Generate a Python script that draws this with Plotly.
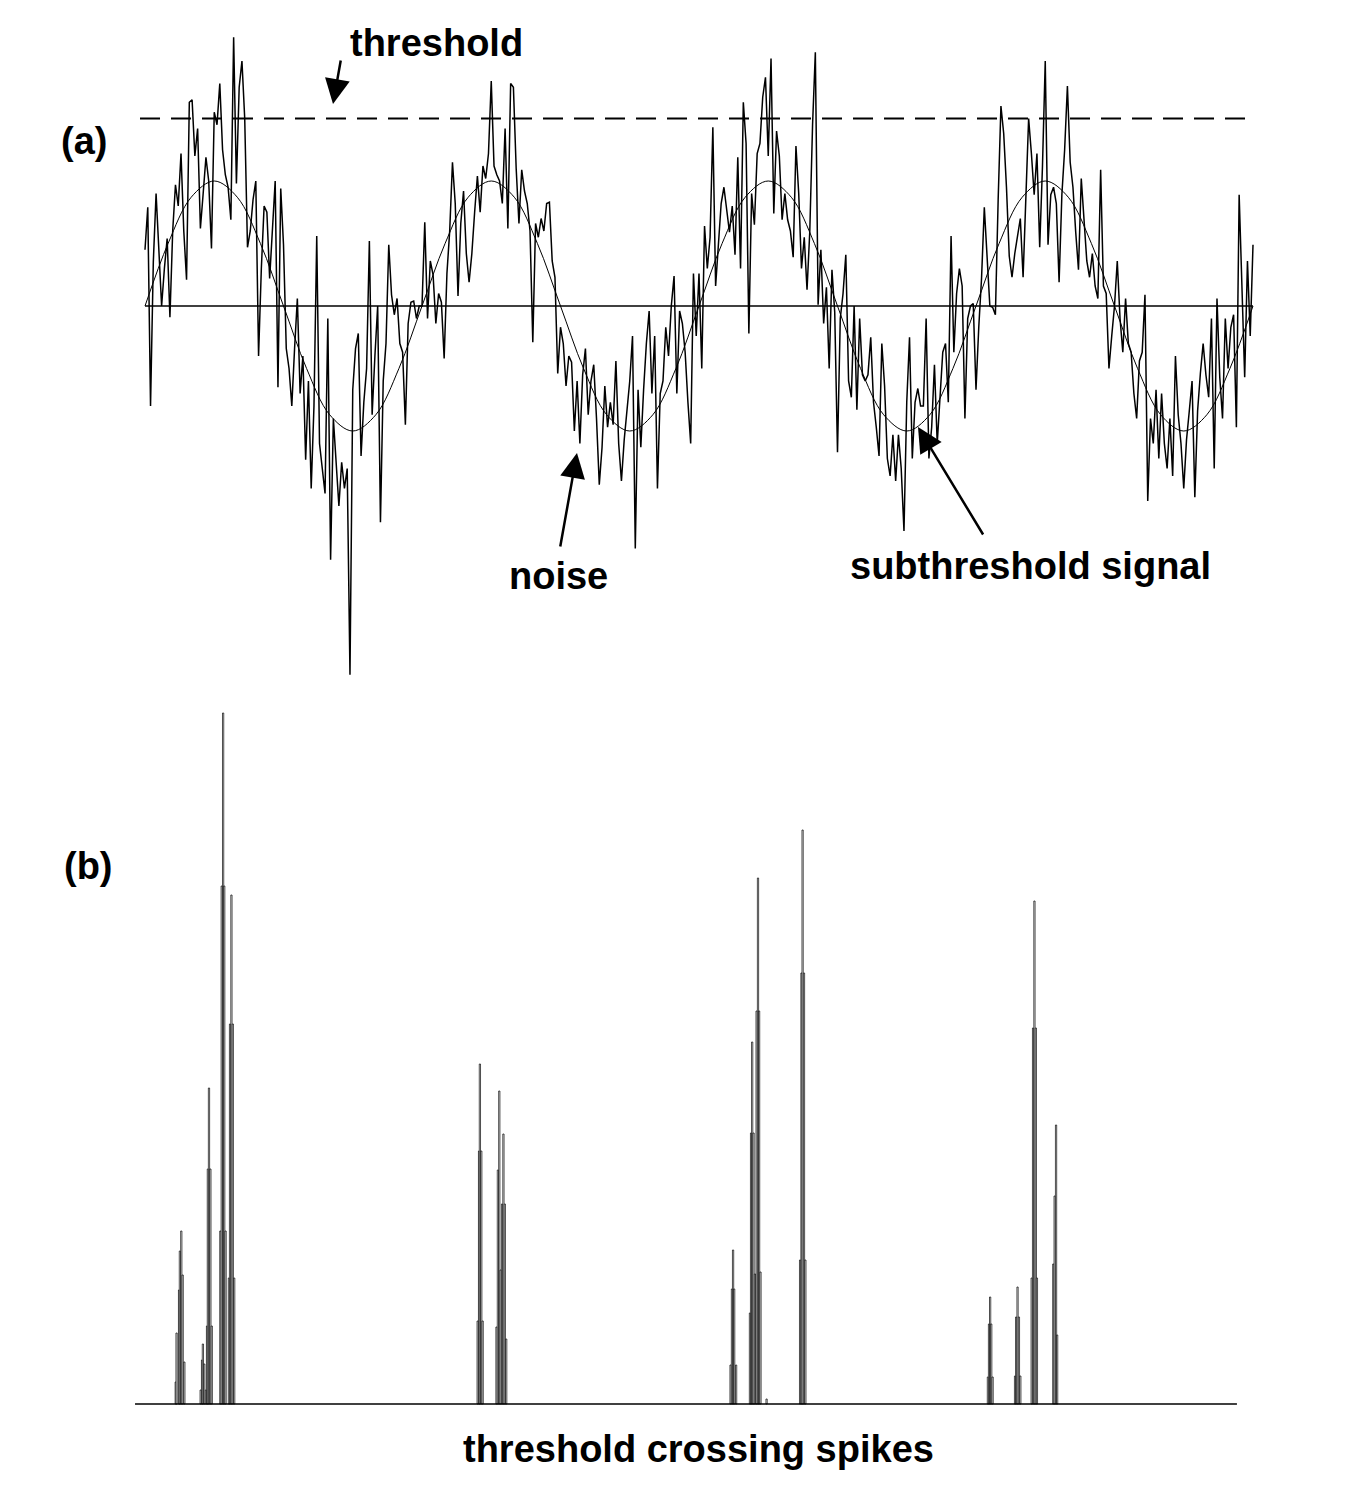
import plotly.graph_objects as go

# ---------------- data ----------------
THRESHOLD = 1.5  # in units of the signal amplitude

# subthreshold sine signal, sampled every 1/12 period (period = 100 time units)
signal = [0.00, 0.50, 0.87, 1.00, 0.87, 0.50, 0.00, -0.50, -0.87, -1.00, -0.87, -0.50,
          0.00, 0.50, 0.87, 1.00, 0.87, 0.50, 0.00, -0.50, -0.87, -1.00, -0.87, -0.50,
          0.00, 0.50, 0.87, 1.00, 0.87, 0.50, 0.00, -0.50, -0.87, -1.00, -0.87, -0.50,
          0.00, 0.50, 0.87, 1.00, 0.87, 0.50, 0.00, -0.50, -0.87, -1.00, -0.87, -0.50,
          0.00]

# noisy signal, one sample per time unit, period by period
noisy_p1 = [0.45, 0.79, -0.80, 0.35, 0.90, 0.40, 0.00, 0.30, 0.54, -0.09,
            0.60, 0.97, 0.80, 1.22, 0.60, 0.21, 1.63, 1.65, 1.20, 1.42,
            0.62, 0.90, 1.19, 1.00, 0.46, 1.55, 1.45, 1.78, 1.25, 1.05,
            0.95, 0.69, 2.15, 0.98, 1.75, 1.96, 1.50, 0.47, 0.60, 0.85,
            1.00, -0.40, 0.30, 0.80, 0.75, 0.22, 0.60, 1.00, -0.65, 0.94,
            0.49, -0.34, -0.50, -0.80, -0.34, 0.06, -0.70, -0.40, -1.23, -0.60,
            -1.46, -0.80, 0.56, -1.10, -1.30, -1.50, -0.10, -2.03, -0.90, -1.27,
            -1.60, -1.25, -1.46, -1.30, -2.95, -0.67, -0.34, -0.22, -1.20, -0.77,
            -0.50, 0.52, -0.87, -0.40, 0.00, -1.73, -0.60, -0.30, 0.49, 0.09,
            -0.07, 0.06, -0.30, -0.37, -0.95, -0.14, 0.03, 0.04, -0.10, 0.00]

noisy_p2 = [0.00, 0.67, -0.10, 0.36, 0.25, -0.14, 0.10, 0.03, -0.42, 0.26,
            0.60, 1.15, 0.82, 0.08, 0.66, 0.92, 0.42, 0.19, 0.42, 0.75,
            1.04, 0.75, 1.12, 1.02, 1.22, 1.80, 1.12, 1.05, 1.00, 0.82,
            1.42, 0.62, 1.78, 1.75, 1.10, 0.66, 1.09, 0.92, 0.82, 0.60,
            -0.29, 0.66, 0.55, 0.70, 0.60, 0.82, 0.83, 0.36, 0.23, -0.54,
            -0.17, -0.30, -0.64, -0.40, -0.45, -1.00, -0.60, -1.10, -0.55, -0.34,
            -0.87, -0.60, -0.47, -0.90, -1.43, -1.13, -0.64, -0.97, -0.77, -0.95,
            -0.44, -1.10, -1.40, -1.07, -0.80, -0.60, -0.24, -1.94, -0.67, -1.13,
            -0.67, -0.30, -0.04, -0.70, -0.24, -1.46, -0.70, -0.60, -0.17, -0.40,
            0.00, 0.24, -0.70, -0.04, -0.14, -0.37, -0.77, -1.10, 0.26, -0.24]

noisy_p3 = [0.26, -0.50, 0.64, 0.30, 0.55, 1.43, 0.16, 0.50, 0.82, 0.95,
            0.75, 0.59, 0.80, 0.41, 1.19, 0.30, 1.63, 1.30, -0.22, 0.90,
            0.65, 1.22, 1.30, 1.67, 1.83, 1.20, 1.98, 0.74, 1.40, 1.20,
            0.69, 0.90, 0.69, 0.60, 0.39, 1.28, 0.90, 0.30, 0.55, 0.13,
            0.60, 1.45, 2.03, 0.01, 0.45, -0.14, 0.15, -0.50, 0.29, -0.05,
            -1.17, -0.10, 0.10, 0.41, -0.60, -0.73, 0.00, -0.83, -0.10, -0.55,
            -0.60, -0.55, -0.25, -0.77, -0.97, -1.20, -0.30, -0.64, -1.22, -1.36,
            -1.03, -1.40, -1.03, -1.30, -1.80, -0.77, -0.25, -1.22, -0.77, -0.66,
            -0.80, -0.80, -0.10, -1.22, -0.97, -0.47, -1.10, -0.77, -0.37, -0.30,
            -0.77, 0.56, -0.37, 0.10, 0.30, 0.16, -0.90, -0.10, 0.00, 0.02]

noisy_p4 = [-0.67, -0.17, 0.22, 0.79, 0.40, 0.00, -0.01, -0.07, 0.85, 1.60,
            1.38, 0.95, 0.40, 0.23, 0.42, 0.55, 0.70, 0.23, 0.82, 1.50,
            1.22, 0.89, 1.22, 0.47, 1.12, 1.96, 0.49, 0.89, 0.95, 0.82,
            0.19, 0.89, 1.25, 1.76, 1.15, 0.95, 0.59, 0.29, 1.02, 0.66,
            0.36, 0.23, 0.42, 0.16, 0.06, 1.09, 0.16, 0.10, -0.50, -0.24,
            0.00, 0.36, -0.10, -0.37, 0.06, -0.30, -0.37, -0.70, -0.90, -0.44,
            -0.37, 0.09, -1.56, -0.90, -1.10, -0.67, -1.22, -0.70, -1.10, -1.30,
            -0.90, -1.36, -0.40, -0.87, -1.10, -1.46, -1.07, -0.84, -0.60, -1.53,
            -0.84, -0.54, -0.30, -0.55, -0.73, -0.10, -1.30, 0.06, -0.57, -0.90,
            -0.10, -0.50, -0.17, -0.07, -0.97, 0.89, 0.22, -0.57, 0.36, -0.24,
            0.49]

# threshold crossing spikes (time, height)
spike_t = [11.1, 11.4, 12.3, 12.6, 13.1, 13.6, 14.2,
           20.1, 20.6, 20.9, 21.4, 22.0, 22.4, 22.7, 23.1, 23.6, 24.1,
           27.2, 27.7, 28.2, 28.6, 29.1,
           30.3, 30.7, 31.2, 31.7, 32.2,
           120.1, 120.6, 120.9, 121.4, 121.9,
           126.9, 127.4, 127.9, 128.4, 128.9, 129.4, 129.9, 130.4,
           211.4, 211.9, 212.3, 212.7, 213.4,
           218.4, 218.8, 219.2, 219.7, 220.2, 220.8, 221.3, 221.7, 222.2,
           224.4,
           236.5, 237.0, 237.4, 237.9, 238.4,
           304.3, 304.7, 305.1, 305.5, 306.0,
           314.1, 314.5, 315.0, 315.5, 316.0,
           320.1, 320.6, 321.1, 321.6, 322.0,
           327.9, 328.4, 328.9, 329.3]
spike_h = [0.22, 0.71, 1.14, 1.53, 1.73, 1.29, 0.42,
           0.14, 0.44, 0.60, 0.40, 0.14, 0.78, 2.35, 3.16, 2.35, 0.78,
           1.73, 5.18, 6.91, 5.18, 1.73,
           1.26, 3.80, 5.09, 3.80, 1.26,
           0.83, 2.53, 3.40, 2.53, 0.83,
           0.77, 2.34, 3.13, 1.34, 2.00, 2.70, 2.00, 0.65,
           0.39, 1.15, 1.54, 1.15, 0.39,
           0.91, 2.71, 3.62, 2.71, 1.30, 3.93, 5.26, 3.93, 1.32,
           0.05,
           1.44, 4.31, 5.74, 4.31, 1.44,
           0.27, 0.80, 1.07, 0.80, 0.27,
           0.28, 0.87, 1.17, 0.87, 0.28,
           1.26, 3.76, 5.03, 3.76, 1.26,
           1.40, 2.08, 2.79, 0.69]

# ---------------- figure ----------------
W, H = 1345, 1493
noisy = noisy_p1 + noisy_p2 + noisy_p3 + noisy_p4
t_noise = list(range(len(noisy)))
t_signal = [i * 100 / 12 for i in range(len(signal))]
t_end = t_noise[-1]

FONT = dict(family="Liberation Sans, Arial, sans-serif", size=38, color="black", weight="bold")


def px(x):
    return x / W


def py(y):
    return 1 - y / H


fig = go.Figure()

# threshold (dashed)
fig.add_trace(go.Scatter(x=[-1.8, t_end], y=[THRESHOLD, THRESHOLD], mode="lines",
                         line=dict(color="black", width=2.2, dash="20px,11px"),
                         xaxis="x", yaxis="y", hoverinfo="skip"))
# zero line
fig.add_trace(go.Scatter(x=[0, t_end], y=[0, 0], mode="lines",
                         line=dict(color="black", width=1.6),
                         xaxis="x", yaxis="y", hoverinfo="skip"))
# noisy signal
fig.add_trace(go.Scatter(x=t_noise, y=noisy, mode="lines",
                         line=dict(color="black", width=1.5),
                         xaxis="x", yaxis="y"))
# subthreshold signal
fig.add_trace(go.Scatter(x=t_signal, y=signal, mode="lines",
                         line=dict(color="black", width=1, shape="spline"),
                         xaxis="x", yaxis="y"))
# spikes
fig.add_trace(go.Bar(x=spike_t, y=spike_h, width=0.45,
                     marker=dict(color="white", line=dict(color="black", width=0.7)),
                     xaxis="x", yaxis="y2"))
# spike baseline
fig.add_trace(go.Scatter(x=[-3.6, 394.2], y=[0, 0], mode="lines",
                         line=dict(color="black", width=1.6),
                         xaxis="x", yaxis="y2", hoverinfo="skip"))

annotations = [
    dict(text="threshold", x=px(436), y=py(43)),
    dict(text="(a)", x=px(84), y=py(141)),
    dict(text="noise", x=px(558), y=py(576)),
    dict(text="subthreshold signal", x=px(1030), y=py(566)),
    dict(text="(b)", x=px(88), y=py(866)),
    dict(text="threshold crossing spikes", x=px(698), y=py(1449)),
]
for a in annotations:
    a.update(xref="paper", yref="paper", showarrow=False, font=FONT,
             xanchor="center", yanchor="middle")

arrows = [
    ((333, 104), (341, 59)),
    ((577, 453), (560, 548)),
    ((918, 427), (984, 536)),
]
for (hx, hy), (tx, ty) in arrows:
    annotations.append(dict(text="", x=px(hx), y=py(hy), xref="paper", yref="paper",
                            ax=tx - hx, ay=ty - hy, axref="pixel", ayref="pixel",
                            showarrow=True, arrowhead=2, arrowsize=2.0, arrowwidth=2.5,
                            arrowcolor="black", standoff=0))

fig.update_layout(
    width=W, height=H, autosize=False,
    margin=dict(l=0, r=0, t=0, b=0),
    paper_bgcolor="white", plot_bgcolor="white",
    showlegend=False, barmode="overlay",
    xaxis=dict(range=[-145 / 2.77, 1200 / 2.77], domain=[0, 1], visible=False, fixedrange=True),
    yaxis=dict(range=[(306 - 690) / 125, (306 - 20) / 125], domain=[1 - 690 / H, 1 - 20 / H],
               visible=False, fixedrange=True),
    yaxis2=dict(range=[(1404 - 1420) / 100, (1404 - 700) / 100], domain=[1 - 1420 / H, 1 - 700 / H],
                visible=False, anchor="x", fixedrange=True),
    annotations=annotations,
)

fig.write_html("out.html", config={"displayModeBar": False},
               post_script="document.body.style.margin='0';")
